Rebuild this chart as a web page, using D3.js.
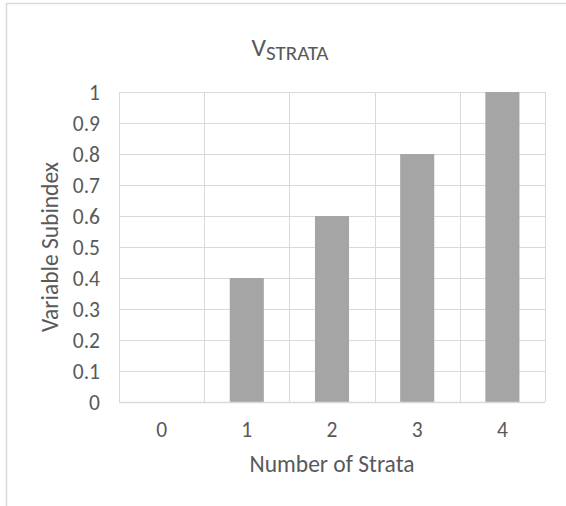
<!DOCTYPE html>
<html>
<head>
<meta charset="utf-8">
<script src="https://cdn.jsdelivr.net/npm/d3@7"></script>
<style>
  body { margin: 0; background: #fff; }
  svg text { font-family: Carlito, Calibri, Lato, sans-serif; fill: #595959; }
</style>
</head>
<body>
<div id="chart"></div>
<script>
// V_STRATA bar chart

const categories = ["0", "1", "2", "3", "4"];
const values = [0, 0.4, 0.6, 0.8, 1.0];
const yTicks = [0, 0.1, 0.2, 0.3, 0.4, 0.5, 0.6, 0.7, 0.8, 0.9, 1];

const width = 566, height = 506;
const plot = { left: 119, right: 545, top: 92, bottom: 402 };

const svg = d3.select("#chart").append("svg")
    .attr("width", width).attr("height", height);

// chart frame (runs off the right and bottom of the picture)
svg.append("rect")
    .attr("x", 6.5).attr("y", 3.5).attr("width", 700).attr("height", 700)
    .attr("fill", "#fff").attr("stroke", "#d9d9d9").attr("stroke-width", 1.5);

const x = d3.scaleBand().domain(categories).range([plot.left, plot.right]).paddingInner(0).paddingOuter(0);
const y = d3.scaleLinear().domain([0, 1]).range([plot.bottom, plot.top]);

// --- GRID ---
svg.append("g").selectAll("line.h")
    .data(yTicks).join("line")
    .attr("x1", plot.left).attr("x2", plot.right)
    .attr("y1", d => Math.round(y(d)) + 0.5).attr("y2", d => Math.round(y(d)) + 0.5)
    .attr("stroke", "#d9d9d9").attr("stroke-width", 1);

const vLines = categories.map(c => x(c)).concat([plot.right]);
svg.append("g").selectAll("line.v")
    .data(vLines).join("line")
    .attr("x1", d => Math.round(d) + 0.5).attr("x2", d => Math.round(d) + 0.5)
    .attr("y1", plot.top).attr("y2", plot.bottom)
    .attr("stroke", "#d9d9d9").attr("stroke-width", 1);

// --- BARS ---
const barW = x.bandwidth() / 2.5;  // gap width 150%
svg.append("g").selectAll("rect")
    .data(values.map((v, i) => ({ cat: categories[i], v })))
    .join("rect")
    .attr("x", d => x(d.cat) + (x.bandwidth() - barW) / 2)
    .attr("width", barW)
    .attr("y", d => y(d.v))
    .attr("height", d => y(0) - y(d.v))
    .attr("fill", "#a5a5a5");

// x axis baseline
svg.append("line")
    .attr("x1", plot.left).attr("x2", plot.right)
    .attr("y1", plot.bottom + 0.5).attr("y2", plot.bottom + 0.5)
    .attr("stroke", "#d9d9d9").attr("stroke-width", 1.5);

// --- AXES ---
const yAxis = svg.append("g")
    .attr("transform", `translate(${plot.left},0)`)
    .call(d3.axisLeft(y).tickValues(yTicks).tickSize(0).tickPadding(19).tickFormat(d3.format("")));
yAxis.select(".domain").remove();
yAxis.selectAll("text").style("font-size", "21.5px").attr("dy", "0.36em");

const xAxis = svg.append("g")
    .attr("transform", `translate(0,${plot.bottom})`)
    .call(d3.axisBottom(x).tickSize(0).tickPadding(20));
xAxis.select(".domain").remove();
xAxis.selectAll("text").style("font-size", "21.5px");

// --- TITLES ---
const title = svg.append("text")
    .attr("x", 290).attr("y", 56)
    .attr("text-anchor", "middle");
title.append("tspan").text("V").style("font-size", "25.5px");
title.append("tspan").text("STRATA").attr("dy", 4).style("font-size", "21px");

svg.append("text")
    .attr("x", (plot.left + plot.right) / 2).attr("y", 472)
    .attr("text-anchor", "middle")
    .style("font-size", "23.5px")
    .text("Number of Strata");

svg.append("text")
    .attr("transform", `translate(58,${(plot.top + plot.bottom) / 2}) rotate(-90)`)
    .attr("text-anchor", "middle")
    .style("font-size", "23.5px")
    .text("Variable Subindex");
</script>
</body>
</html>
